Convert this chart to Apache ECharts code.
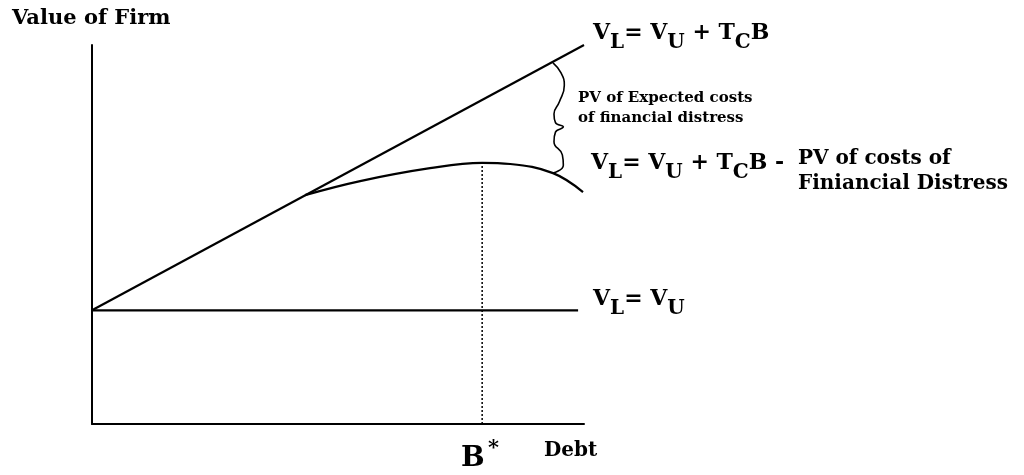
<!DOCTYPE html>
<html>
<head>
<meta charset="utf-8">
<script src="https://cdn.jsdelivr.net/npm/echarts@6/dist/echarts.min.js"></script>
<style>
  html, body { margin: 0; padding: 0; background: #fff; }
  #chart { width: 1024px; height: 475px; }
</style>
</head>
<body>
<div id="chart"></div>
<script>
// debt on x (0..10), value of firm on y (0..10)
const unleveredLine = [[0, 3], [9.88, 3]];
const taxShieldLine = [[0, 3], [10, 10]];
const distressCurve = [[4.33, 6.04], [5.45, 6.41], [6.87, 6.75], [7.93, 6.89], [8.5, 6.86], [9.37, 6.62], [9.98, 6.12]];
const optimumDrop = [[7.93, 0], [7.93, 6.89]];
const brace = [[9.37, 9.53], [9.53, 9.27], [9.6, 8.94], [9.5, 8.5], [9.39, 8.18], [9.42, 7.95], [9.58, 7.84],
  [9.42, 7.7], [9.39, 7.45], [9.56, 7.1], [9.58, 6.83], [9.37, 6.62]];

const FONT = '"DejaVu Serif", "Liberation Serif", serif';

document.addEventListener("DOMContentLoaded", function () {
    var chart = echarts.init(document.getElementById("chart"));

    const plainLine = function (data, extra) {
        return Object.assign({
            type: 'line',
            data: data,
            symbol: 'none',
            silent: true,
            lineStyle: { color: '#000', width: 2.2 }
        }, extra || {});
    };

    // rich styles for formulas with subscripts
    const formulaRich = {
        v: { fontFamily: FONT, fontWeight: 'bold', fontSize: 22, lineHeight: 22, verticalAlign: 'top', color: '#000' },
        s: { fontFamily: FONT, fontWeight: 'bold', fontSize: 20, lineHeight: 20, padding: [11, 0, 0, 0], verticalAlign: 'top', color: '#000' }
    };

    const textEl = function (left, top, text, size, lineHeight, rich) {
        return {
            type: 'text',
            left: left,
            top: top,
            silent: true,
            style: {
                text: text,
                fontFamily: FONT,
                fontWeight: 'bold',
                fontSize: size,
                lineHeight: lineHeight,
                fill: '#000',
                rich: rich
            }
        };
    };

    var option = {
        animation: false,
        backgroundColor: '#fff',
        grid: { left: 92, top: 45, right: 440, bottom: 51 },
        xAxis: {
            type: 'value', min: 0, max: 10,
            axisLine: { show: true, onZero: false, lineStyle: { color: '#000', width: 2 } },
            axisTick: { show: false }, axisLabel: { show: false }, splitLine: { show: false }
        },
        yAxis: {
            type: 'value', min: 0, max: 10,
            axisLine: { show: true, onZero: false, lineStyle: { color: '#000', width: 2 } },
            axisTick: { show: false }, axisLabel: { show: false }, splitLine: { show: false }
        },
        series: [
            plainLine(unleveredLine),
            plainLine(taxShieldLine),
            plainLine(distressCurve, { smooth: 0.4 }),
            plainLine(optimumDrop, { lineStyle: { color: '#000', width: 1.5, type: [2, 2] } }),
            plainLine(brace, { smooth: 0.5, lineStyle: { color: '#000', width: 1.6 } })
        ],
        graphic: [
            textEl(12, 7, 'Value of Firm', 21, 24),
            textEl(593, 22, '{v|V}{s|L}{v|= V}{s|U}{v| + T}{s|C}{v|B}', 22, 22, formulaRich),
            textEl(578, 88, 'PV of Expected costs\nof financial distress', 15, 20),
            textEl(591, 152, '{v|V}{s|L}{v|= V}{s|U}{v| + T}{s|C}{v|B -}', 22, 22, formulaRich),
            textEl(798, 146, 'PV of costs of\nFiniancial Distress', 20, 25),
            textEl(593, 288, '{v|V}{s|L}{v|= V}{s|U}', 22, 22, formulaRich),
            textEl(461, 444, 'B', 28, 30),
            textEl(488, 438, '*', 21, 22),
            textEl(544, 440, 'Debt', 20, 22)
        ]
    };

    chart.setOption(option);
});
</script>
</body>
</html>
